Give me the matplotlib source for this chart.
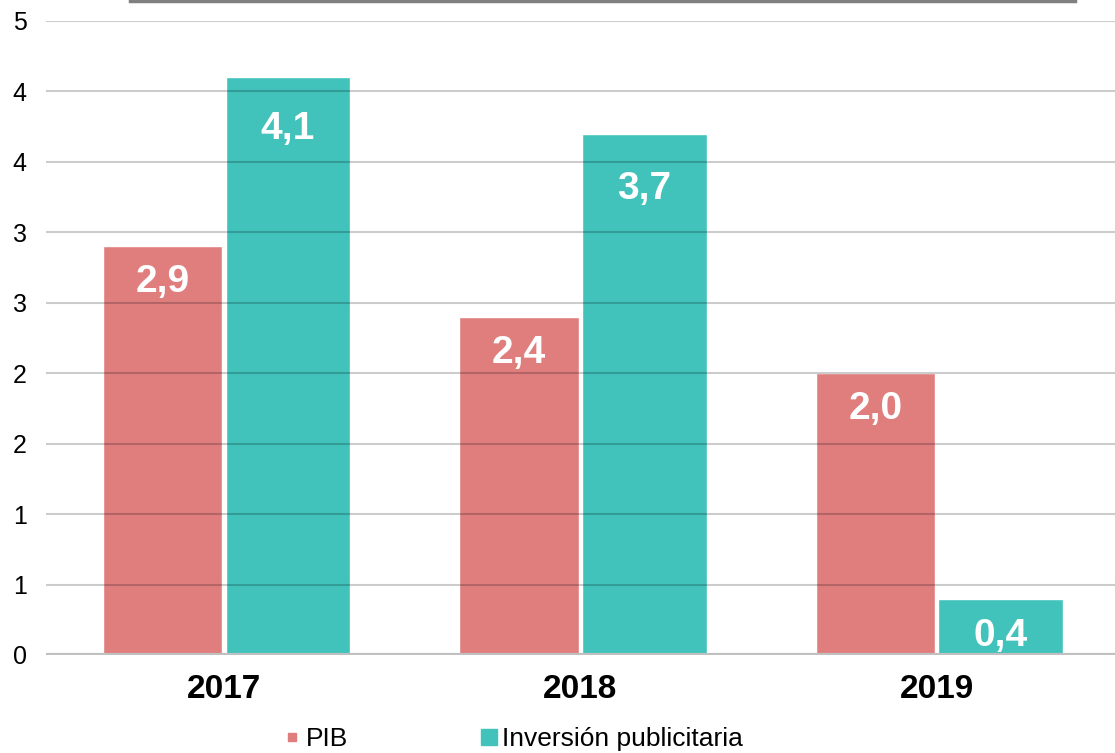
import numpy as np
import matplotlib
matplotlib.use("Agg")
from matplotlib import pyplot as plt
from matplotlib.lines import Line2D

# data
years = ["2017", "2018", "2019"]
pib = [2.9, 2.4, 2.0]
inversion = [4.1, 3.7, 0.4]
series_names = ["PIB", "Inversión publicitaria"]
col_pib = "#E07E7E"
col_inv = "#41C3BC"
yticks = np.arange(0, 4.51, 0.5)

# label drop below bar top, in points (as in the original)
drop_pib = [25.5, 26, 26]
drop_inv = [37, 40, 27]

plt.rcParams['font.family'] = ['Liberation Sans', 'DejaVu Sans']

fig = plt.figure(figsize=(11.15, 7.53), dpi=100)
ax = fig.add_axes([46/1115, 1-655/753, 1-46/1115, (655-21)/753])

x = np.arange(len(years))
b1 = ax.bar(x - 0.173, pib, 0.335, color=col_pib, edgecolor="white", linewidth=1, zorder=2)
b2 = ax.bar(x + 0.179, inversion, 0.35, color=col_inv, edgecolor="white", linewidth=1, zorder=2)

for bars, vals, drops in [(b1, pib, drop_pib), (b2, inversion, drop_inv)]:
    for r, v, d in zip(bars, vals, drops):
        ax.annotate(f"{v:.1f}".replace(".", ","), (r.get_x() + r.get_width()/2, v),
                    xytext=(0, -d), textcoords="offset points", ha="center", va="center",
                    color="white", fontsize=28, fontweight="bold", zorder=4)

# gridlines over the bars
for t in yticks[1:]:
    ax.axhline(t, color="black", alpha=0.2, lw=1.5, zorder=3)
ax.axhline(0, color="#c0c0c0", lw=3, zorder=3)

ax.set_xlim(-0.5, 2.5)
ax.set_ylim(0, 4.5)
ax.set_yticks(yticks)
ax.set_yticklabels([str(int(np.floor(t + 0.5))) for t in yticks], fontsize=18)
ax.set_xticks(x)
ax.set_xticklabels(years, fontsize=24, fontweight="bold")
ax.tick_params(axis="y", length=0, pad=14)
ax.tick_params(axis="x", length=0, pad=14)
for s in ax.spines.values():
    s.set_visible(False)

handles = [Line2D([], [], ls="none", marker="s", markersize=6, color=col_pib),
           Line2D([], [], ls="none", marker="s", markersize=12, color=col_inv)]
fig.legend(handles, series_names, loc="center left", bbox_to_anchor=(0.235, 0.018),
           ncol=2, frameon=False, fontsize=19, handlelength=0.5, handletextpad=0.25,
           columnspacing=5.1)

fig.add_artist(Line2D([130/1115, 1075/1115], [1 - 1/753]*2, color="#808080", lw=2.5))

fig.savefig("out.png", dpi=100)
